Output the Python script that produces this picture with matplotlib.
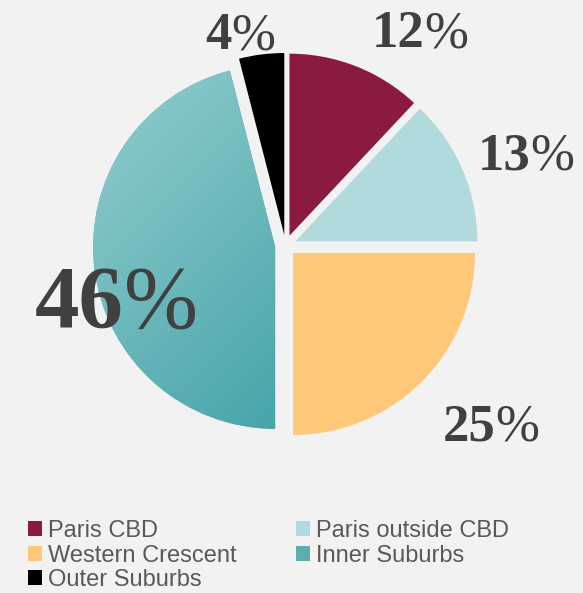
import matplotlib
matplotlib.use("Agg")
import matplotlib.pyplot as plt
import numpy as np
from matplotlib.offsetbox import TextArea, HPacker, AnnotationBbox
from matplotlib.colors import LinearSegmentedColormap
from matplotlib.patches import Patch

categories = ["Paris CBD", "Paris outside CBD", "Western Crescent", "Inner Suburbs", "Outer Suburbs"]
values = [12, 13, 25, 46, 4]
colors = ["#8b1a40", "#b1dadc", "#ffc878", "#5fb0b4", "#000000"]
label_xy = [(0.74, 1.16), (1.32, 0.49), (1.13, -1.00), (-0.93, -0.33), (-0.25, 1.15)]
label_sizes = [38, 38, 38, 64, 38]

BG = "#f2f2f2"
W, H = 583, 593
fig = plt.figure(figsize=(W / 100, H / 100), dpi=100, facecolor=BG)

cx, cy, r = 285.6, 245.5, 182.0
m = 1.15
ax = fig.add_axes([(cx - m * r) / W, (H - cy - m * r) / H, 2 * m * r / W, 2 * m * r / H])
ax.set_facecolor(BG)
ax.axis("off")

wedges, _ = ax.pie(values, colors=colors, startangle=90, counterclock=False,
                   explode=[0.058] * len(values), radius=1.0,
                   wedgeprops=dict(linewidth=0))

# gradient fill for Inner Suburbs
grad_cmap = LinearSegmentedColormap.from_list("teal", ["#8ecbcd", "#369ba2"])
inner = wedges[3]
yy, xx = np.mgrid[1.2:-1.2:300j, -1.2:1.2:300j]
gval = (xx - yy)
gval = (gval - gval.min()) / (gval.max() - gval.min())
gval = np.clip((gval - 0.12) / 0.72, 0, 1)
im = ax.imshow(gval, cmap=grad_cmap, extent=[-1.2, 1.2, -1.2, 1.2], origin="upper",
               zorder=inner.get_zorder() + 0.1, interpolation="bilinear")
im.set_clip_path(inner)
ax.set_xlim(-m, m)
ax.set_ylim(-m, m)
ax.set_aspect("equal")

# labels: bold digits + regular percent sign
txtcol = "#404040"
for v, (lx, ly), fs in zip(values, label_xy, label_sizes):
    t1 = TextArea(str(v), textprops=dict(family="Liberation Serif", fontweight="bold",
                                         fontsize=fs, color=txtcol))
    t2 = TextArea("%", textprops=dict(family="Liberation Serif", fontweight="normal",
                                      fontsize=fs, color=txtcol))
    box = HPacker(children=[t1, t2], align="baseline", pad=0, sep=0)
    ab = AnnotationBbox(box, (lx, ly), xycoords="data", frameon=False,
                        box_alignment=(0.5, 0.5), annotation_clip=False, zorder=10)
    ax.add_artist(ab)

# legend (row-major order as in reference)
handles = [Patch(facecolor=c, edgecolor="none") for c in colors]
handles[3] = Patch(facecolor="#5aaeb2", edgecolor="none")
order = [0, 2, 4, 1, 3]
leg = fig.legend([handles[i] for i in order], [categories[i] for i in order],
                 loc="upper left", bbox_to_anchor=(28 / W, 1 - 520 / H),
                 ncol=2, frameon=False, handlelength=0.6, handleheight=0.6,
                 handletextpad=0.25, columnspacing=2.5, labelspacing=0.11,
                 borderpad=0, borderaxespad=0,
                 prop=dict(family="Liberation Sans", size=17))
for t in leg.get_texts():
    t.set_color("#595959")

fig.savefig("out.png", dpi=100, facecolor=BG)
